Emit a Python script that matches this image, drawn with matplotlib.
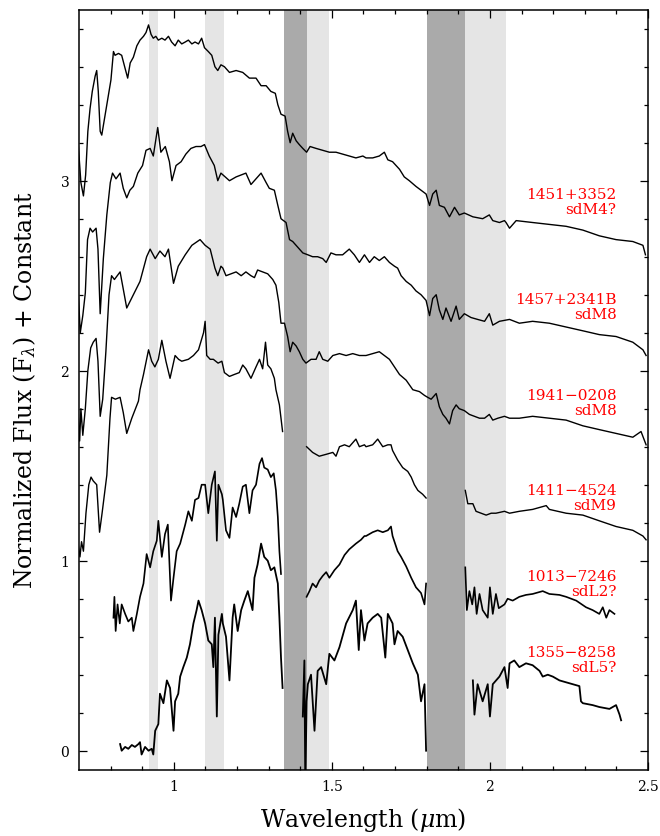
import numpy as np
import matplotlib
matplotlib.use("Agg")
import matplotlib.pyplot as plt

nan = np.nan

# telluric bands (micron)
light_bands = [(0.92, 0.95), (1.10, 1.16), (1.42, 1.49), (1.92, 2.05)]
dark_bands = [(1.35, 1.42), (1.80, 1.92)]

# 1451+3352 sdM4?
wl_1451 = [0.698, 0.706, 0.714, 0.721, 0.728, 0.735, 0.742, 0.751, 0.756, 0.761, 0.767, 0.772,
           0.782, 0.793, 0.801, 0.809, 0.814, 0.825, 0.835, 0.846, 0.854, 0.862, 0.872, 0.883,
           0.893, 0.904, 0.912, 0.920, 0.928, 0.935, 0.943, 0.951, 0.962, 0.972, 0.983, 0.993,
           1.004, 1.014, 1.025, 1.036, 1.046, 1.057, 1.067, 1.078, 1.088, 1.097, 1.109, 1.120,
           1.130, 1.139, 1.149, 1.160, 1.176, 1.197, 1.218, 1.239, 1.260, 1.276, 1.292, 1.307,
           1.321, 1.329, 1.339, 1.352, 1.360, 1.368, 1.376, 1.387, 1.397, 1.408, 1.420, 1.431,
           1.450, 1.471, 1.492, 1.513, 1.534, 1.555, 1.576, 1.598, 1.608, 1.629, 1.650, 1.666,
           1.677, 1.692, 1.714, 1.729, 1.745, 1.766, 1.782, 1.798, 1.809, 1.819, 1.830, 1.840,
           1.856, 1.872, 1.888, 1.903, 1.919, 1.946, 1.977, 1.998, 2.009, 2.030, 2.046, 2.051,
           2.062, 2.083, 2.135, 2.188, 2.241, 2.294, 2.346, 2.399, 2.452, 2.484, 2.492]
fx_1451 = [3.18, 2.99, 2.92, 3.03, 3.26, 3.38, 3.47, 3.55, 3.58, 3.47, 3.26, 3.24,
           3.34, 3.45, 3.53, 3.68, 3.66, 3.67, 3.66, 3.59, 3.54, 3.62, 3.65, 3.71,
           3.74, 3.76, 3.78, 3.82, 3.77, 3.75, 3.76, 3.74, 3.75, 3.74, 3.76, 3.73,
           3.71, 3.74, 3.72, 3.73, 3.74, 3.72, 3.73, 3.72, 3.75, 3.70, 3.68, 3.66,
           3.60, 3.58, 3.61, 3.60, 3.57, 3.58, 3.57, 3.54, 3.54, 3.50, 3.50, 3.47,
           3.46, 3.40, 3.35, 3.34, 3.26, 3.20, 3.25, 3.21, 3.19, 3.17, 3.15, 3.18,
           3.17, 3.16, 3.15, 3.15, 3.14, 3.13, 3.12, 3.13, 3.12, 3.12, 3.13, 3.15,
           3.11, 3.10, 3.06, 3.02, 3.00, 2.97, 2.95, 2.93, 2.87, 2.93, 2.95, 2.87,
           2.86, 2.81, 2.86, 2.82, 2.83, 2.81, 2.80, 2.82, 2.79, 2.78, 2.79, 2.78,
           2.75, 2.79, 2.78, 2.77, 2.76, 2.74, 2.71, 2.69, 2.68, 2.66, 2.61]

# 1457+2341B sdM8
wl_1457 = [0.698, 0.704, 0.712, 0.720, 0.727, 0.735, 0.743, 0.754, 0.760, 0.767, 0.777, 0.788,
           0.799, 0.806, 0.817, 0.830, 0.840, 0.851, 0.861, 0.872, 0.886, 0.901, 0.912, 0.925,
           0.935, 0.949, 0.959, 0.973, 0.986, 0.994, 1.007, 1.023, 1.038, 1.054, 1.070, 1.086,
           1.097, 1.112, 1.128, 1.139, 1.149, 1.176, 1.197, 1.228, 1.244, 1.260, 1.276, 1.292,
           1.302, 1.318, 1.329, 1.339, 1.355, 1.366, 1.376, 1.392, 1.408, 1.424, 1.439, 1.455,
           1.471, 1.482, 1.497, 1.513, 1.534, 1.555, 1.571, 1.587, 1.603, 1.619, 1.634, 1.650,
           1.666, 1.682, 1.698, 1.708, 1.719, 1.735, 1.751, 1.766, 1.782, 1.798, 1.809, 1.819,
           1.830, 1.840, 1.851, 1.861, 1.877, 1.893, 1.903, 1.919, 1.940, 1.961, 1.983, 1.998,
           2.009, 2.030, 2.062, 2.093, 2.135, 2.188, 2.241, 2.294, 2.346, 2.399, 2.452, 2.484,
           2.494]
fx_1457 = [2.40, 2.20, 2.29, 2.41, 2.69, 2.75, 2.73, 2.75, 2.64, 2.30, 2.59, 2.82,
           2.99, 3.04, 3.01, 3.04, 2.96, 2.91, 2.95, 2.97, 3.04, 3.08, 3.16, 3.17,
           3.13, 3.28, 3.15, 3.18, 3.10, 3.00, 3.08, 3.10, 3.14, 3.17, 3.18, 3.18,
           3.19, 3.13, 3.08, 3.00, 3.04, 3.00, 3.02, 3.04, 2.98, 3.01, 3.04, 2.99,
           2.96, 2.95, 2.87, 2.80, 2.78, 2.69, 2.68, 2.65, 2.62, 2.61, 2.60, 2.60,
           2.59, 2.57, 2.62, 2.61, 2.61, 2.64, 2.61, 2.57, 2.61, 2.57, 2.60, 2.58,
           2.60, 2.57, 2.55, 2.54, 2.50, 2.47, 2.45, 2.42, 2.40, 2.37, 2.29, 2.38,
           2.40, 2.32, 2.27, 2.33, 2.26, 2.34, 2.27, 2.30, 2.28, 2.27, 2.26, 2.30,
           2.24, 2.26, 2.27, 2.25, 2.26, 2.25, 2.23, 2.21, 2.19, 2.18, 2.15, 2.11,
           2.08]

# 1941-0208 sdM8
wl_1941 = [0.698, 0.702, 0.706, 0.712, 0.720, 0.728, 0.737, 0.745, 0.754, 0.760, 0.767, 0.775,
           0.785, 0.795, 0.803, 0.812, 0.830, 0.840, 0.851, 0.872, 0.893, 0.914, 0.925, 0.941,
           0.956, 0.972, 0.983, 0.999, 1.014, 1.036, 1.057, 1.083, 1.099, 1.115, 1.130, 1.139,
           1.149, 1.155, 1.165, 1.181, 1.197, 1.213, 1.228, 1.244, 1.255, 1.265, 1.281, 1.297,
           1.313, 1.323, 1.332, 1.339, 1.350, 1.360, 1.368, 1.376, 1.387, 1.397, 1.408, 1.418,
           1.434, 1.450, 1.460, 1.471, 1.487, 1.503, 1.524, 1.545, 1.566, 1.587, 1.608, 1.629,
           1.650, 1.666, 1.682, 1.698, 1.714, 1.735, 1.756, 1.777, 1.793, 1.803, 1.814, 1.830,
           1.840, 1.851, 1.861, 1.872, 1.882, 1.893, 1.903, 1.919, 1.935, 1.951, 1.967, 1.983,
           1.998, 2.009, 2.025, 2.046, 2.062, 2.093, 2.135, 2.188, 2.241, 2.294, 2.346, 2.399,
           2.452, 2.478, 2.494]
fx_1941 = [1.75, 1.63, 1.80, 1.66, 1.80, 2.00, 2.12, 2.15, 2.17, 2.05, 1.76, 1.85,
           2.10, 2.40, 2.50, 2.48, 2.52, 2.43, 2.33, 2.40, 2.47, 2.60, 2.64, 2.59,
           2.63, 2.60, 2.64, 2.46, 2.55, 2.61, 2.66, 2.69, 2.66, 2.64, 2.54, 2.50,
           2.55, 2.54, 2.50, 2.51, 2.52, 2.50, 2.52, 2.50, 2.49, 2.53, 2.52, 2.51,
           2.48, 2.45, 2.36, 2.25, 2.25, 2.18, 2.10, 2.15, 2.13, 2.10, 2.06, 2.04,
           2.06, 2.06, 2.10, 2.06, 2.05, 2.08, 2.09, 2.08, 2.09, 2.08, 2.08, 2.09,
           2.10, 2.08, 2.06, 2.02, 1.98, 1.95, 1.90, 1.89, 1.87, 1.86, 1.85, 1.88,
           1.81, 1.77, 1.75, 1.72, 1.79, 1.82, 1.80, 1.79, 1.77, 1.76, 1.75, 1.75,
           1.77, 1.74, 1.75, 1.76, 1.75, 1.75, 1.76, 1.75, 1.74, 1.71, 1.69, 1.67,
           1.65, 1.68, 1.61]

# 1411-4524 sdM9 (gaps in the strong water bands)
wl_1411 = [0.698, 0.703, 0.708, 0.714, 0.722, 0.731, 0.738, 0.745, 0.756, 0.765, 0.773, 0.788,
           0.798, 0.803, 0.815, 0.830, 0.840, 0.851, 0.867, 0.888, 0.893, 0.904, 0.920, 0.930,
           0.940, 0.951, 0.962, 0.975, 0.988, 1.004, 1.015, 1.025, 1.046, 1.062, 1.078, 1.094,
           1.099, 1.104, 1.115, 1.125, 1.140, 1.152, 1.160, 1.176, 1.191, 1.207, 1.218, 1.228,
           1.244, 1.260, 1.271, 1.281, 1.290, 1.297, 1.307, 1.318, 1.323, 1.334, 1.344, nan,
           1.420, 1.439, 1.460, 1.482, 1.503, 1.513, 1.524, 1.540, 1.555, 1.576, 1.587, 1.603,
           1.608, 1.629, 1.645, 1.661, 1.677, 1.687, 1.692, 1.708, 1.724, 1.740, 1.751, 1.761,
           1.772, 1.787, 1.798, nan, 1.922, 1.930, 1.946, 1.956, 1.972, 1.988, 2.004, 2.019,
           2.046, 2.062, 2.093, 2.135, 2.178, 2.188, 2.241, 2.294, 2.346, 2.399, 2.452, 2.484,
           2.494]
fx_1411 = [1.08, 1.02, 1.10, 1.05, 1.25, 1.40, 1.44, 1.42, 1.40, 1.15, 1.25, 1.45,
           1.75, 1.86, 1.85, 1.86, 1.78, 1.67, 1.75, 1.84, 1.90, 1.98, 2.11, 2.05,
           2.02, 2.06, 2.16, 2.05, 1.96, 2.08, 2.06, 2.05, 2.06, 2.08, 2.11, 2.20,
           2.26, 2.08, 2.06, 2.06, 2.04, 2.05, 1.99, 1.97, 1.98, 1.99, 2.03, 2.01,
           1.96, 2.02, 2.06, 2.01, 2.15, 2.03, 2.01, 1.96, 1.90, 1.82, 1.68, nan,
           1.60, 1.57, 1.55, 1.56, 1.57, 1.55, 1.60, 1.61, 1.60, 1.64, 1.60, 1.61,
           1.60, 1.61, 1.64, 1.60, 1.61, 1.61, 1.58, 1.53, 1.49, 1.47, 1.44, 1.40,
           1.37, 1.35, 1.33, nan, 1.37, 1.30, 1.30, 1.26, 1.25, 1.24, 1.25, 1.25,
           1.26, 1.25, 1.26, 1.27, 1.29, 1.27, 1.25, 1.24, 1.21, 1.18, 1.16, 1.13,
           1.11]

# 1013-7246 sdL2?
wl_1013 = [0.809, 0.812, 0.816, 0.822, 0.829, 0.835, 0.846, 0.856, 0.867, 0.872, 0.883, 0.893,
           0.904, 0.914, 0.925, 0.935, 0.946, 0.951, 0.962, 0.972, 0.981, 0.991, 0.999, 1.009,
           1.020, 1.036, 1.046, 1.057, 1.067, 1.078, 1.088, 1.099, 1.109, 1.120, 1.130, 1.136,
           1.141, 1.152, 1.155, 1.165, 1.176, 1.186, 1.197, 1.207, 1.218, 1.228, 1.239, 1.249,
           1.260, 1.271, 1.279, 1.286, 1.297, 1.307, 1.316, 1.323, 1.329, 1.334, 1.339, nan,
           1.420, 1.429, 1.439, 1.450, 1.460, 1.471, 1.482, 1.492, 1.508, 1.524, 1.540, 1.555,
           1.576, 1.592, 1.603, 1.608, 1.629, 1.645, 1.661, 1.677, 1.687, 1.692, 1.708, 1.719,
           1.735, 1.751, 1.766, 1.782, 1.793, 1.798, nan, 1.922, 1.927, 1.935, 1.944, 1.951,
           1.958, 1.967, 1.977, 1.993, 2.000, 2.009, 2.019, 2.028, 2.046, 2.056, 2.072, 2.093,
           2.114, 2.135, 2.167, 2.188, 2.220, 2.241, 2.273, 2.304, 2.325, 2.346, 2.357, 2.368,
           2.378, 2.394]
fx_1013 = [0.70, 0.81, 0.63, 0.77, 0.67, 0.77, 0.72, 0.68, 0.70, 0.63, 0.72, 0.81,
           0.88, 1.035, 0.965, 1.05, 1.105, 1.21, 1.02, 1.14, 1.19, 0.79, 0.91, 1.05,
           1.09, 1.19, 1.26, 1.21, 1.32, 1.33, 1.40, 1.40, 1.25, 1.40, 1.47, 1.105,
           1.40, 1.35, 1.32, 1.16, 1.12, 1.28, 1.23, 1.30, 1.39, 1.40, 1.25, 1.37,
           1.40, 1.51, 1.54, 1.49, 1.48, 1.44, 1.46, 1.37, 1.23, 1.05, 0.93, nan,
           0.81, 0.84, 0.88, 0.86, 0.895, 0.92, 0.94, 0.91, 0.95, 0.98, 1.03, 1.06,
           1.09, 1.11, 1.13, 1.13, 1.15, 1.16, 1.15, 1.16, 1.18, 1.13, 1.05, 1.02,
           0.97, 0.91, 0.86, 0.83, 0.77, 0.88, nan, 0.965, 0.74, 0.84, 0.77, 0.86,
           0.72, 0.825, 0.74, 0.70, 0.86, 0.72, 0.825, 0.75, 0.77, 0.80, 0.79, 0.81,
           0.82, 0.825, 0.84, 0.825, 0.82, 0.81, 0.79, 0.755, 0.74, 0.72, 0.755, 0.70,
           0.74, 0.72]

# 1355-8258 sdL5?
wl_1355 = [0.830, 0.835, 0.846, 0.856, 0.867, 0.877, 0.888, 0.893, 0.898, 0.909, 0.920, 0.930,
           0.935, 0.941, 0.951, 0.956, 0.967, 0.978, 0.988, 0.999, 1.004, 1.014, 1.020, 1.030,
           1.041, 1.051, 1.062, 1.072, 1.078, 1.088, 1.099, 1.109, 1.120, 1.125, 1.130, 1.136,
           1.141, 1.152, 1.155, 1.165, 1.176, 1.186, 1.191, 1.202, 1.213, 1.223, 1.234, 1.249,
           1.255, 1.265, 1.276, 1.286, 1.297, 1.307, 1.318, 1.329, 1.334, 1.339, 1.344, nan,
           1.408, 1.413, 1.416, 1.420, 1.424, 1.434, 1.445, 1.455, 1.466, 1.482, 1.492, 1.508,
           1.524, 1.545, 1.566, 1.576, 1.585, 1.592, 1.603, 1.613, 1.629, 1.645, 1.656, 1.669,
           1.677, 1.692, 1.698, 1.708, 1.724, 1.740, 1.756, 1.772, 1.782, 1.793, 1.798, nan,
           1.946, 1.951, 1.961, 1.977, 1.993, 2.000, 2.009, 2.030, 2.046, 2.056, 2.062, 2.077,
           2.093, 2.114, 2.135, 2.157, 2.167, 2.183, 2.199, 2.220, 2.241, 2.262, 2.283, 2.288,
           2.294, 2.325, 2.346, 2.378, 2.399, 2.410, 2.415]
fx_1355 = [0.035, 0.00, 0.02, 0.01, 0.03, 0.02, 0.035, 0.045, -0.02, 0.02, 0.00, 0.01,
           -0.02, 0.105, 0.14, 0.30, 0.25, 0.37, 0.33, 0.105, 0.26, 0.30, 0.39, 0.44,
           0.49, 0.56, 0.67, 0.74, 0.79, 0.74, 0.67, 0.58, 0.56, 0.44, 0.70, 0.18,
           0.61, 0.72, 0.67, 0.60, 0.37, 0.70, 0.77, 0.63, 0.74, 0.79, 0.84, 0.74,
           0.91, 0.98, 1.09, 1.02, 1.00, 0.95, 0.965, 0.88, 0.70, 0.49, 0.33, nan,
           0.18, 0.475, -0.20, 0.26, 0.35, 0.40, 0.105, 0.42, 0.44, 0.35, 0.51, 0.475,
           0.545, 0.67, 0.74, 0.79, 0.53, 0.74, 0.58, 0.67, 0.70, 0.72, 0.70, 0.49,
           0.72, 0.67, 0.56, 0.63, 0.60, 0.53, 0.46, 0.40, 0.26, 0.35, 0.00, nan,
           0.37, 0.19, 0.35, 0.26, 0.35, 0.18, 0.35, 0.39, 0.44, 0.33, 0.46, 0.475,
           0.44, 0.46, 0.45, 0.42, 0.39, 0.40, 0.39, 0.37, 0.36, 0.35, 0.34, 0.26,
           0.25, 0.24, 0.23, 0.22, 0.24, 0.19, 0.16]

names = ["1451+3352", "1457+2341B", "1941\u22120208", "1411\u22124524", "1013\u22127246", "1355\u22128258"]
sptypes = ["sdM4?", "sdM8", "sdM8", "sdM9", "sdL2?", "sdL5?"]
label_y = [2.93, 2.375, 1.872, 1.372, 0.919, 0.52]

spectra = [(wl_1451, fx_1451), (wl_1457, fx_1457), (wl_1941, fx_1941),
           (wl_1411, fx_1411), (wl_1013, fx_1013), (wl_1355, fx_1355)]
widths = [1.0, 1.0, 1.0, 1.0, 1.2, 1.3]

plt.rcParams['font.family'] = ['DejaVu Serif']
plt.rcParams['mathtext.fontset'] = 'dejavuserif'

fig = plt.figure(figsize=(6.6, 8.37), dpi=100)
ax = fig.add_axes([0.1197, 0.0792, 0.8621, 0.908])

for lo, hi in light_bands:
    ax.axvspan(lo, hi, color='#e5e5e5', lw=0, zorder=0)
for lo, hi in dark_bands:
    ax.axvspan(lo, hi, color='#aaaaaa', lw=0, zorder=0)

for (wl, fx), w in zip(spectra, widths):
    ax.plot(wl, fx, color='black', lw=w, zorder=2)

for name, st, y in zip(names, sptypes, label_y):
    ax.text(2.40, y, name, color='red', fontsize=11, ha='right', va='center')
    ax.text(2.40, y - 0.077, st, color='red', fontsize=11, ha='right', va='center')

ax.set_xlim(0.7, 2.5)
ax.set_ylim(-0.1, 3.9)
ax.set_xticks([1, 1.5, 2, 2.5])
ax.set_xticklabels(["1", "1.5", "2", "2.5"])
ax.set_yticks([0, 1, 2, 3])
ax.set_xticks(np.arange(0.8, 2.5, 0.1), minor=True)
ax.set_yticks(np.arange(-0.0, 3.9, 0.2), minor=True)
ax.tick_params(which='both', direction='in', top=True, right=True, width=0.9, labelsize=10)
ax.tick_params(which='major', length=6, pad=7)
ax.tick_params(which='minor', length=3)
for s in ax.spines.values():
    s.set_linewidth(1.1)

ax.set_xlabel(r'Wavelength ($\mu$m)', fontsize=17, labelpad=8)
ax.set_ylabel(r'Normalized Flux (F$_\lambda$) + Constant', fontsize=17, labelpad=16)

fig.savefig('out.png', dpi=100)
